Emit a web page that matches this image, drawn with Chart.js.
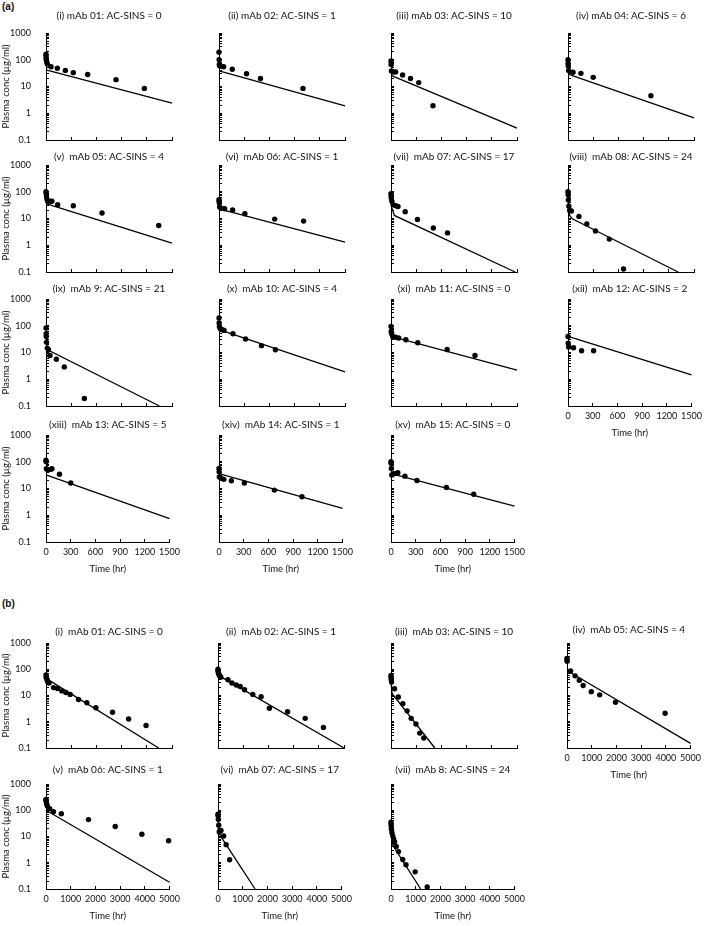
<!DOCTYPE html>
<html>
<head>
<meta charset="utf-8">
<script src="https://cdn.jsdelivr.net/npm/chart.js@4.4.1/dist/chart.umd.min.js"></script>
<style>
  html, body { margin: 0; padding: 0; background: #fff; }
  #page { position: relative; width: 709px; height: 926px; overflow: hidden; }
  #page canvas { position: absolute; }
  .tag { position: absolute; font: bold 10px "Liberation Sans", Arial, sans-serif; color: #111; }
</style>
</head>
<body>
<div id="page">
  <div class="tag" style="left:2px;top:1px">(a)</div>
  <div class="tag" style="left:2px;top:598px">(b)</div>
</div>
<script>
// ---- axis values ----
const Y_TICKS = [0.1, 1, 10, 100, 1000];
const X_TICKS_A = [0, 300, 600, 900, 1200, 1500];
const X_TICKS_B = [0, 1000, 2000, 3000, 4000, 5000];

// ---- panel (a): observed points [time hr, conc ug/ml] and model line ----
const a01_obs = [[0,160],[1,140],[2,115],[4,100],[8,85],[16,70],[60,55],[135,48],[230,40],[325,33],[496,28],[834,18],[1171,8.5]];
const a01_fit = [[0,42],[1500,2.4]];
const a02_obs = [[0,190],[1,100],[4,67],[10,58],[25,58],[55,55],[158,44],[328,30],[494,20],[1000,8.5]];
const a02_fit = [[0,38],[1500,1.9]];
const a03_obs = [[0,90],[1,67],[5,38],[25,35],[55,35],[138,27],[232,20],[330,14],[500,1.9]];
const a03_fit = [[0,26],[1500,0.28]];
const a04_obs = [[0,100],[1,73],[3,58],[8,40],[60,34],[154,31],[300,22],[987,4.5]];
const a04_fit = [[0,29],[1500,0.67]];
const a05_obs = [[0,100],[3,88],[6,70],[10,54],[20,44],[48,44],[70,44],[139,33],[325,30],[667,16],[1342,5.5]];
const a05_fit = [[0,36],[1500,1.2]];
const a06_obs = [[0,50],[2,45],[4,38],[8,27],[20,25],[67,23],[162,21],[308,15],[663,9.5],[1007,8]];
const a06_fit = [[0,23],[1500,1.3]];
const a07_obs = [[0,84],[2,70],[4,58],[10,44],[25,33],[55,30],[83,28],[169,18],[315,9.2],[504,4.4],[673,2.9]];
const a07_fit = [[0,60],[10,25],[40,13],[1477,0.1]];
const a08_obs = [[0,100],[2,77],[4,50],[10,29],[20,20],[40,19],[130,12],[224,6.2],[327,3.4],[492,1.7],[661,0.13]];
const a08_fit = [[0,45],[8,20],[20,13],[51,9.7],[1311,0.1]];
const a09_obs = [[0,82],[2,50],[3,40],[6,24],[15,14.6],[30,12.7],[48,7.7],[123,5.6],[218,2.9],[457,0.19]];
const a09_fit = [[0,40],[10,16],[30,12],[1350,0.1]];
const a10_obs = [[0,194],[2,126],[5,94],[15,77],[40,71],[60,67],[166,50],[316,32],[506,18],[672,12.6]];
const a10_fit = [[0,71],[1500,1.9]];
const a11_obs = [[0,94],[2,61],[8,50],[20,40],[55,37],[91,35],[177,30],[319,23],[669,13],[1000,7.7]];
const a11_fit = [[0,40],[1500,2.2]];
const a12_obs = [[0,40],[2,22.5],[8,16],[67,15],[165,11.6],[311,11.6]];
const a12_fit = [[0,40],[1500,1.46]];
const a13_obs = [[0,115],[2,100],[4,55],[24,49],[60,52],[72,55],[164,34],[300,16]];
const a13_fit = [[0,32],[1500,0.75]];
const a14_obs = [[0,56],[2,42],[4,27],[28,24],[59,22],[150,19.4],[308,16],[672,8.7],[1007,4.9]];
const a14_fit = [[0,36],[1500,1.8]];
const a15_obs = [[0,100],[1,87],[4,56],[10,32],[30,36],[50,36],[83,39],[169,29],[315,20],[673,11],[1004,6.1]];
const a15_fit = [[0,36],[1500,2.2]];

// ---- panel (b) ----
const b01_obs = [[0,60],[10,50],[24,45],[48,38],[72,33],[120,30],[300,20],[460,18.5],[630,15],[790,13],[960,11],[1290,7],[1620,5.3],[1980,3.4],[2640,2.3],[3280,1.27],[3970,0.72]];
const b01_fit = [[0,45],[4470,0.1]];
const b02_obs = [[0,100],[5,90],[10,80],[20,70],[40,62],[70,55],[110,50],[395,40],[552,30],[724,25],[882,22],[1053,16.5],[1382,11],[1711,9],[2039,3.25],[2763,2.4],[3460,1.35],[4184,0.61]];
const b02_fit = [[0,60],[5000,0.1]];
const b03_obs = [[0,58],[5,50],[10,42],[20,33],[140,18],[290,8.8],[470,4.9],[640,2.6],[800,1.35],[990,0.82],[1140,0.37],[1300,0.24]];
const b03_fit = [[0,50],[20,20],[40,12],[1740,0.1]];
const b05_obs = [[0,260],[2,230],[4,200],[144,86],[328,56],[498,38],[655,24],[983,14],[1323,10.6],[1965,5.5],[3970,2.1]];
const b05_fit = [[0,90],[5000,0.15]];
const b06_obs = [[0,260],[4,240],[10,210],[25,175],[50,150],[150,115],[300,88],[620,74],[1720,44],[2800,24],[3880,12.2],[4960,6.9]];
const b06_fit = [[0,100],[5000,0.18]];
const b07_obs = [[0,70],[5,62],[15,45],[30,27],[50,15],[80,16.5],[120,17],[230,10.5],[330,4.9],[470,1.3]];
const b07_fit = [[0,60],[20,20],[60,12],[1500,0.1]];
const b08_obs = [[0,35],[5,29],[10,24],[20,19],[40,14],[70,10.6],[105,8],[145,6.3],[211,4.2],[304,2.66],[475,1.33],[607,0.84],[977,0.45],[1465,0.12]];
const b08_fit = [[0,30],[30,8],[80,4.5],[1200,0.1]];

const TITLES_A = [
  "(i) mAb 01: AC-SINS = 0", "(ii) mAb 02: AC-SINS = 1", "(iii) mAb 03: AC-SINS = 10", "(iv) mAb 04: AC-SINS = 6",
  "(v)  mAb 05: AC-SINS = 4", "(vi)  mAb 06: AC-SINS = 1", "(vii)  mAb 07: AC-SINS = 17", "(viii)  mAb 08: AC-SINS = 24",
  "(ix)  mAb 9: AC-SINS = 21", "(x)  mAb 10: AC-SINS = 4", "(xi)  mAb 11: AC-SINS = 0", "(xii)  mAb 12: AC-SINS = 2",
  "(xiii)  mAb 13: AC-SINS = 5", "(xiv)  mAb 14: AC-SINS = 1", "(xv)  mAb 15: AC-SINS = 0"
];
const TITLES_B = [
  "(i)  mAb 01: AC-SINS = 0", "(ii)  mAb 02: AC-SINS = 1", "(iii)  mAb 03: AC-SINS = 10", "(iv)  mAb 05: AC-SINS = 4",
  "(v)  mAb 06: AC-SINS = 1", "(vi)  mAb 07: AC-SINS = 17", "(vii)  mAb 8: AC-SINS = 24"
];

const OBS_A = [a01_obs, a02_obs, a03_obs, a04_obs, a05_obs, a06_obs, a07_obs, a08_obs, a09_obs, a10_obs, a11_obs, a12_obs, a13_obs, a14_obs, a15_obs];
const FIT_A = [a01_fit, a02_fit, a03_fit, a04_fit, a05_fit, a06_fit, a07_fit, a08_fit, a09_fit, a10_fit, a11_fit, a12_fit, a13_fit, a14_fit, a15_fit];
const OBS_B = [b01_obs, b02_obs, b03_obs, b05_obs, b06_obs, b07_obs, b08_obs];
const FIT_B = [b01_fit, b02_fit, b03_fit, b05_fit, b06_fit, b07_fit, b08_fit];

// ---- layout (plot-area positions on the page) ----
const YW = 46, RP = 16, TP = 28, XH = 36, PW = 126;
const A_COLS = [46, 219, 391, 568], A_ROWS = [33, 165, 299, 435], A_H = 107;
const A_GAP = [17.5, 8.5, 10.3, 10];
const B_COLS = [46, 218, 391, 567], B_ROWS = [643, 784], B_H = 105;
const B_GAP = [11.3, 14.3];

// minor ticks 1..9 per decade for the log axis
const Y_MINOR = [];
Y_TICKS.slice(0, -1).forEach(d => {
  for (let k = 1; k <= 9; k++) Y_MINOR.push(Number((k * d).toPrecision(3)));
});
Y_MINOR.push(Y_TICKS[Y_TICKS.length - 1]);

Chart.defaults.font.family = 'Lato, "Open Sans", sans-serif';
Chart.defaults.font.size = 9;
Chart.defaults.color = "#111";

// draws the panel heading centred over the plot area
const panelTitle = {
  id: "panelTitle",
  afterDraw(chart, args, opts) {
    const { ctx, chartArea } = chart;
    ctx.save();
    ctx.font = '10px Lato, "Open Sans", sans-serif';
    ctx.fillStyle = "#111";
    ctx.textAlign = "center";
    ctx.textBaseline = "middle";
    ctx.fillText(opts.text, (chartArea.left + chartArea.right) / 2, chartArea.top - opts.gap);
    ctx.restore();
  }
};

const page = document.getElementById("page");

function makeChart(p) {
  const cv = document.createElement("canvas");
  const w = YW + PW + RP, h = TP + p.h + XH;
  cv.width = w; cv.height = h;
  cv.style.left = (p.left - YW) + "px";
  cv.style.top = (p.top - TP) + "px";
  cv.style.width = w + "px"; cv.style.height = h + "px";
  page.appendChild(cv);

  const xt = p.xTicks;
  new Chart(cv, {
    type: "scatter",
    data: {
      datasets: [
        {
          data: p.fit.map(([x, y]) => ({ x, y })),
          showLine: true, borderColor: "#000", borderWidth: 1.3,
          pointRadius: 0, clip: false
        },
        {
          data: p.obs.map(([x, y]) => ({ x, y })),
          pointRadius: 2.7, backgroundColor: "#000", borderWidth: 0, clip: false
        }
      ]
    },
    options: {
      responsive: false,
      animation: false,
      layout: { padding: { top: TP, right: RP, left: 0, bottom: 0 } },
      plugins: {
        legend: { display: false },
        tooltip: { enabled: false },
        panelTitle: { text: p.title, gap: p.gap }
      },
      scales: {
        x: {
          type: "linear",
          min: xt[0], max: xt[xt.length - 1],
          afterFit: s => { s.height = XH; },
          ticks: {
            display: p.showX, stepSize: xt[1] - xt[0], autoSkip: false,
            maxRotation: 0, padding: 8, callback: v => String(v)
          },
          // negative length puts the tick marks inside the plot, as in the figure
          grid: { drawOnChartArea: false, drawTicks: true, tickLength: -3, color: "#000" },
          border: { display: true, color: "#000", width: 1 },
          title: { display: p.showX, text: "Time (hr)", font: { size: 9.5 }, padding: { top: 0, bottom: 3 } }
        },
        y: {
          type: "logarithmic",
          min: Y_TICKS[0], max: Y_TICKS[Y_TICKS.length - 1],
          afterFit: s => { s.width = YW; },
          afterBuildTicks: s => {
            s.ticks = Y_MINOR.map(v => ({ value: v, major: Y_TICKS.includes(v) }));
          },
          ticks: {
            display: p.showY, autoSkip: false, padding: 18,
            callback: v => (Y_TICKS.includes(v) ? String(v) : "")
          },
          grid: { drawOnChartArea: false, drawTicks: true, tickLength: -3, color: "#000" },
          border: { display: true, color: "#000", width: 1 },
          title: { display: p.showY, text: "Plasma conc (µg/ml)", font: { size: 9.5 }, padding: { top: 0, bottom: 0 } }
        }
      }
    },
    plugins: [panelTitle]
  });
}

// panel (a): 4 x 4 grid, last row has three plots
TITLES_A.forEach((title, i) => {
  const col = i % 4, row = Math.floor(i / 4);
  makeChart({
    title, obs: OBS_A[i], fit: FIT_A[i], xTicks: X_TICKS_A,
    left: A_COLS[col], top: A_ROWS[row], h: A_H, gap: A_GAP[row],
    showY: col === 0, showX: row === 3 || (row === 2 && col === 3)
  });
});

// panel (b): 4 + 3 plots
TITLES_B.forEach((title, i) => {
  const col = i % 4, row = Math.floor(i / 4);
  makeChart({
    title, obs: OBS_B[i], fit: FIT_B[i], xTicks: X_TICKS_B,
    left: B_COLS[col], top: B_ROWS[row], h: B_H,
    gap: (row === 0 && col === 3) ? 13.7 : B_GAP[row],
    showY: col === 0, showX: row === 1 || col === 3
  });
});
</script>
</body>
</html>
